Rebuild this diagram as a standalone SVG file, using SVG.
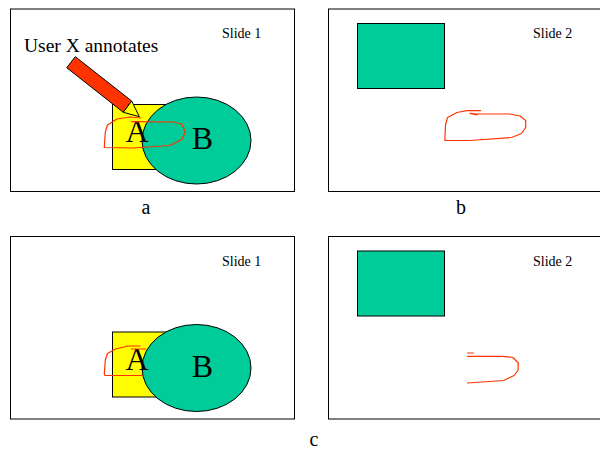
<svg xmlns="http://www.w3.org/2000/svg" width="600" height="450" viewBox="0 0 600 450">
<style>
.bg{fill:#fff}
.slide{fill:#fff;stroke:#000;stroke-width:1}
.shape{stroke:#000;stroke-width:1}
.y{fill:#ffff00}
.g{fill:#00cc99}
.ink{fill:none;stroke:#ff3300;stroke-width:1.2;stroke-linejoin:round;stroke-linecap:round}
text{font-family:"Liberation Serif","Times New Roman",serif;fill:#000}
.sl{font-size:14px}
.cap{font-size:20px;text-anchor:middle}
.big{font-size:32px;text-anchor:middle}
</style>
<rect class="bg" width="600" height="450"/>
<g id="slide-a">
<rect class="slide" x="10.500" y="9" width="284" height="182.500"/>
<text class="sl" x="222" y="38">Slide 1</text>
<rect class="shape y" x="112.500" y="104.500" width="58" height="65"/>
<ellipse class="shape g" cx="196.500" cy="140.500" rx="54.500" ry="43.500"/>
<text class="big" x="137" y="142">A</text>
<text class="big" x="202.500" y="149">B</text>
<path class="ink" d="M140.700 118 130 117 117 119 107.500 125 105.300 132 104.300 147.500 133 148 170 145.500 181.700 139.500 185.300 132 181.700 124 173.300 122 131.700 121.700"/>
<text x="24" y="52" font-size="19.500px">User X annotates</text>
<g id="pencil">
<polygon class="shape" fill="#ff3300" points="75.300,56.700 66.700,67.700 123.300,112.300 131.700,101"/>
<polygon class="shape y" points="131.700,101 123.300,112.300 139.300,116.700"/>
</g>
</g>
<g id="slide-b">
<rect class="slide" x="328.500" y="9" width="280" height="182.500"/>
<text class="sl" x="533" y="38">Slide 2</text>
<rect class="shape g" x="357.500" y="23.500" width="87" height="65"/>
<path class="ink" d="M480.500 110.700 467 110.700 457 112.500 447.500 117.500 445.500 125 444.800 140.300 470 140.500 511.500 137.500 521.500 133.500 525.700 127.500 525.700 120.500 520 116 510 114 476.500 114 470 113.300 477 115"/>
</g>
<g id="slide-a2">
<rect class="slide" x="10.500" y="236.500" width="284" height="182.500"/>
<text class="sl" x="222" y="265.500">Slide 1</text>
<rect class="shape y" x="112.500" y="332" width="58" height="65"/>
<ellipse class="shape g" cx="196.500" cy="368" rx="54.500" ry="43.500"/>
<text class="big" x="137" y="369.500">A</text>
<text class="big" x="202.500" y="377">B</text>
<path class="ink" d="M140 346 128 346 115.500 349 107.500 353.500 105.300 360 104.300 374 105 375.500 142 375.500"/>
<path class="ink" d="M131.500 349 146 349"/>
</g>
<g id="slide-b2">
<rect class="slide" x="328.500" y="236.500" width="280" height="182.500"/>
<text class="sl" x="533" y="265.500">Slide 2</text>
<rect class="shape g" x="357.500" y="251" width="87" height="65"/>
<path class="ink" d="M467.500 383 503.500 380.500 514 375.500 518 370.500 518.300 363 513 357.500 503 356.300 467.500 356.300"/>
<path class="ink" d="M467.500 353 473.500 353"/>
</g>
<g id="captions">
<text class="cap" x="146" y="214">a</text>
<text class="cap" x="461" y="214">b</text>
<text class="cap" x="314" y="445.500">c</text>
</g>
</svg>
